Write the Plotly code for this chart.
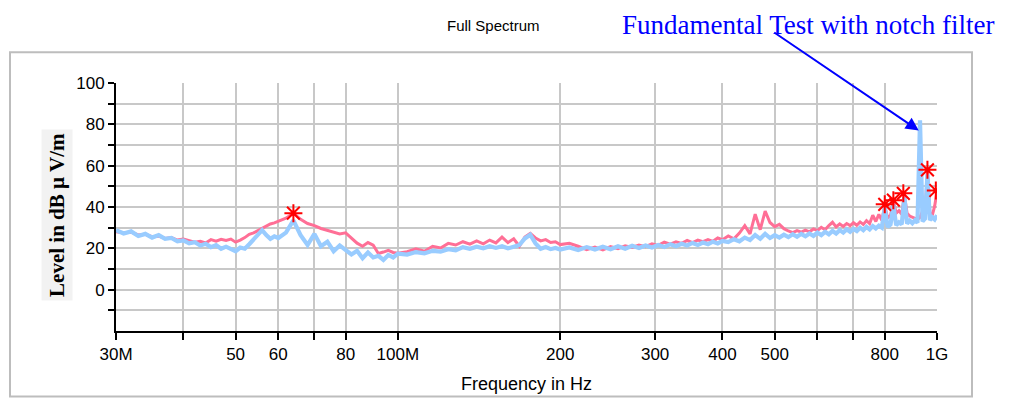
import math
import plotly.graph_objects as go

# ---------------- data ----------------
freq_mhz = [
    30, 31, 32, 33, 34, 35, 36, 37, 38, 39, 40, 41, 42, 43, 44, 45, 46, 47, 48, 49,
    50, 51, 52, 53, 54, 55, 56, 57, 58, 59, 60,
    62, 64, 66, 68, 70, 72, 74, 76, 78, 80, 82, 84, 86, 88, 90, 92, 94, 96, 98, 100,
    104, 108, 112, 116, 120, 124, 128, 132, 136, 140, 144, 148, 152, 156, 160, 164,
    168, 172, 176, 180, 184, 188, 192, 196, 200,
    208, 216, 224, 232, 240, 248, 256, 264, 272, 280, 288, 296, 304, 312, 320, 328,
    336, 344, 352, 360, 368, 376, 384, 392, 400,
    410, 420, 430, 440, 450, 460, 470, 480, 490, 500, 510, 520, 530, 540, 550, 560,
    570, 580, 590, 600, 610, 620, 630, 640, 650, 660, 670, 680, 690, 700, 710, 720,
    730, 740, 750, 760, 770, 780, 790, 800, 810, 820, 830, 840, 850, 860, 870, 880,
    890, 900, 910, 920, 930, 940, 950, 960, 970, 980, 990, 1000,
]

level_peak = [
    28.0, 27.5, 27.8, 26.5, 26.8, 25.6, 25.9, 24.8, 25.2, 24.0, 24.5, 23.6, 23.0, 23.4, 22.6, 24.2, 23.5, 24.4, 23.8, 24.5,
    23.0, 24.0, 25.2, 26.8, 27.5, 28.6, 29.6, 30.5, 31.8, 32.3, 33.0,
    34.6, 37.0, 34.0, 32.0, 31.0, 29.6, 28.6, 27.8, 27.0, 27.5, 25.0, 22.5, 21.0, 22.8, 21.5, 17.5, 18.2, 19.0, 18.0, 17.6,
    18.4, 19.8, 18.6, 21.0, 20.2, 22.4, 21.6, 23.2, 22.0, 23.6, 22.2, 24.0, 22.6, 25.4, 22.8, 24.6,
    21.0, 25.5, 27.2, 25.0, 23.6, 24.2, 22.8, 23.2, 21.8,
    22.4, 21.0, 19.4, 20.6, 19.2, 20.8, 19.8, 21.2, 20.4, 21.6, 20.8, 22.2, 21.4, 23.0, 22.0, 23.2,
    22.4, 23.8, 22.8, 24.0, 23.2, 24.2, 23.4, 25.0, 24.2,
    26.0, 24.6, 27.4, 31.0, 27.0, 36.5, 29.0, 38.0, 32.5, 30.5, 31.6, 29.5, 28.4, 27.6, 28.6, 27.8,
    28.8, 28.0, 29.4, 28.6, 30.2, 29.0, 31.0, 32.6, 30.4, 31.8, 30.6, 32.0, 31.0, 32.4, 31.2, 32.8,
    31.6, 33.4, 32.0, 36.0, 33.0, 36.4, 33.6, 40.5, 34.6, 36.0, 43.0, 37.0, 38.2, 36.4, 46.0, 37.0,
    35.6, 35.0, 34.4, 34.0, 35.0, 38.0, 36.4, 57.5, 37.4, 36.0, 40.4, 47.5,
]

level_notch = [
    28.8, 27.2, 28.2, 26.0, 27.0, 25.2, 26.4, 24.6, 25.0, 23.4, 23.8, 22.4, 23.0, 21.4, 22.2, 20.6, 21.6, 19.8, 20.8, 19.4,
    18.6, 20.4, 19.8, 22.0, 24.2, 26.0, 28.8, 26.4, 24.6, 25.8, 25.0,
    27.6, 33.5, 26.4, 21.6, 27.0, 21.0, 23.2, 18.6, 21.4, 19.0, 17.0, 18.8, 15.2, 18.0, 15.6, 16.4, 14.4, 16.8, 15.6, 17.4,
    17.0, 18.2, 17.6, 18.8, 18.4, 19.6, 19.0, 20.6, 19.8, 20.8, 20.0, 21.0, 20.2, 21.0, 20.0, 20.8,
    21.6, 24.8, 26.6, 22.4, 19.8, 20.6, 19.6, 20.2, 19.4,
    20.4, 19.2, 20.6, 19.4, 20.8, 19.6, 21.0, 19.8, 21.2, 20.2, 21.4, 20.4, 21.6, 20.6, 22.0, 21.0,
    22.2, 21.4, 22.6, 21.6, 22.8, 22.0, 23.2, 22.4, 23.6,
    23.0, 24.4, 23.4, 25.2, 24.0, 26.4, 24.6, 27.0, 25.0, 26.4, 25.2, 26.6, 25.4, 26.8, 25.6, 27.0,
    25.8, 27.2, 26.0, 27.6, 26.4, 28.0, 26.8, 28.4, 27.2, 28.8, 27.6, 29.2, 28.0, 29.4, 28.4, 30.0,
    28.8, 30.4, 29.2, 30.8, 29.6, 31.0, 30.0, 39.5, 30.4, 31.6, 41.0, 31.2, 32.6, 31.6, 44.5, 32.0,
    33.4, 32.2, 33.6, 32.4, 82.0, 33.0, 34.4, 55.8, 33.6, 35.0, 34.0, 36.0,
]

star_mhz = [64, 800, 830, 866, 960, 995]
star_level = [37.0, 41.3, 43.3, 46.6, 58.0, 48.0]

x_tick_mhz = [30, 40, 50, 60, 70, 80, 100, 200, 300, 400, 500, 600, 700, 800, 1000]
x_tick_text = ["30M", "", "50", "60", "", "80", "100M", "200", "300", "400", "500", "", "", "800", "1G"]
y_tick_vals = [-10, 0, 10, 20, 30, 40, 50, 60, 70, 80, 90, 100]
y_tick_text = ["", "0", "", "20", "", "40", "", "60", "", "80", "", "100"]

# ---------------- figure ----------------
OFF = 8                      # page body margin of the html page
W, H = 1013 - OFF, 403 - OFF
# plot area in reference-page pixels
PL, PR, PT, PB = 116, 937, 83, 333
L, R, T, B = PL - OFF, PR - OFF, PT - OFF, PB - OFF


def px_x(p):
    return (p - PL) / (PR - PL)


def px_y(p):
    return (PB - p) / (PB - PT)


hz = [f * 1e6 for f in freq_mhz]
fig = go.Figure()
fig.add_trace(go.Scatter(x=hz, y=level_peak, mode="lines",
                         line=dict(color="#FF6F96", width=3), showlegend=False))
fig.add_trace(go.Scatter(x=hz, y=level_notch, mode="lines",
                         line=dict(color="#99CCFF", width=4.2), showlegend=False))
fig.add_trace(go.Scatter(x=[f * 1e6 for f in star_mhz], y=star_level, mode="markers",
                         marker=dict(symbol="asterisk-open", size=15, color="#FF0000",
                                     line=dict(color="#FF0000", width=2)),
                         showlegend=False))

xr = [math.log10(30e6), 9]
yr = [-20, 100]
tick_font = dict(family="Arial, Liberation Sans, sans-serif", size=17, color="black")

fig.update_layout(
    width=W, height=H,
    margin=dict(l=L, r=W - R, t=T, b=H - B, pad=0),
    paper_bgcolor="white", plot_bgcolor="white",
    xaxis=dict(type="log", range=xr, tickvals=[v * 1e6 for v in x_tick_mhz],
               ticktext=x_tick_text, ticks="outside", ticklen=7, tickwidth=2,
               tickcolor="black", showline=True, linecolor="black", linewidth=2,
               showgrid=True, gridcolor="#C8C8C8", gridwidth=2, zeroline=False,
               tickfont=tick_font,
               title=dict(text="Frequency in Hz", standoff=14,
                          font=dict(family="Arial, Liberation Sans, sans-serif", size=18, color="black"))),
    yaxis=dict(range=yr, tickvals=y_tick_vals, ticktext=y_tick_text, ticks="outside",
               ticklen=6, tickwidth=2, tickcolor="black", showline=True,
               linecolor="black", linewidth=2, showgrid=True, gridcolor="#C8C8C8",
               gridwidth=2, zeroline=False, tickfont=tick_font),
    xaxis2=dict(type="log", range=xr, overlaying="x", anchor="y", side="bottom",
                tickvals=[v * 1e6 for v in x_tick_mhz], ticks="inside", ticklen=6,
                tickwidth=2, tickcolor="black", showticklabels=False, showgrid=False,
                showline=False, zeroline=False),
    yaxis2=dict(range=yr, overlaying="y", anchor="x", side="left", tickvals=y_tick_vals,
                ticks="inside", ticklen=7, tickwidth=2, tickcolor="black",
                showticklabels=False, showgrid=False, showline=False, zeroline=False),
)

# outer frame
fig.add_shape(type="rect", xref="paper", yref="paper",
              x0=px_x(10), x1=px_x(972), y0=px_y(399), y1=px_y(52),
              line=dict(color="#BDBDBD", width=2), layer="below")

# y title with light background
fig.add_annotation(xref="paper", yref="paper", x=px_x(57), y=px_y(216),
                   xanchor="center", yanchor="middle",
                   text="<b>Level in dB µ V/m</b>", textangle=-90, showarrow=False,
                   font=dict(family="Liberation Serif, Times New Roman, serif", size=21, color="black"),
                   bgcolor="#F2F2F2", borderpad=3)

# chart title
fig.add_annotation(xref="paper", yref="paper", x=px_x(493), y=px_y(25),
                   xanchor="center", yanchor="middle",
                   text="Full Spectrum", showarrow=False,
                   font=dict(family="Arial, Liberation Sans, sans-serif", size=15, color="black"))

# blue callout
fig.add_annotation(xref="paper", yref="paper", x=px_x(808), y=px_y(OFF),
                   xanchor="center", yanchor="top", borderpad=0,
                   text="Fundamental Test with notch filter", showarrow=False,
                   font=dict(family="Liberation Serif, Times New Roman, serif", size=27, color="#0000FF"))
fig.add_annotation(x=math.log10(925e6), y=77, xref="x", yref="y", text="",
                   showarrow=True, arrowhead=2, arrowsize=1.3, arrowwidth=2,
                   arrowcolor="#0000FF", ax=-146, ay=-99, standoff=0)

fig.write_html("out.html")
